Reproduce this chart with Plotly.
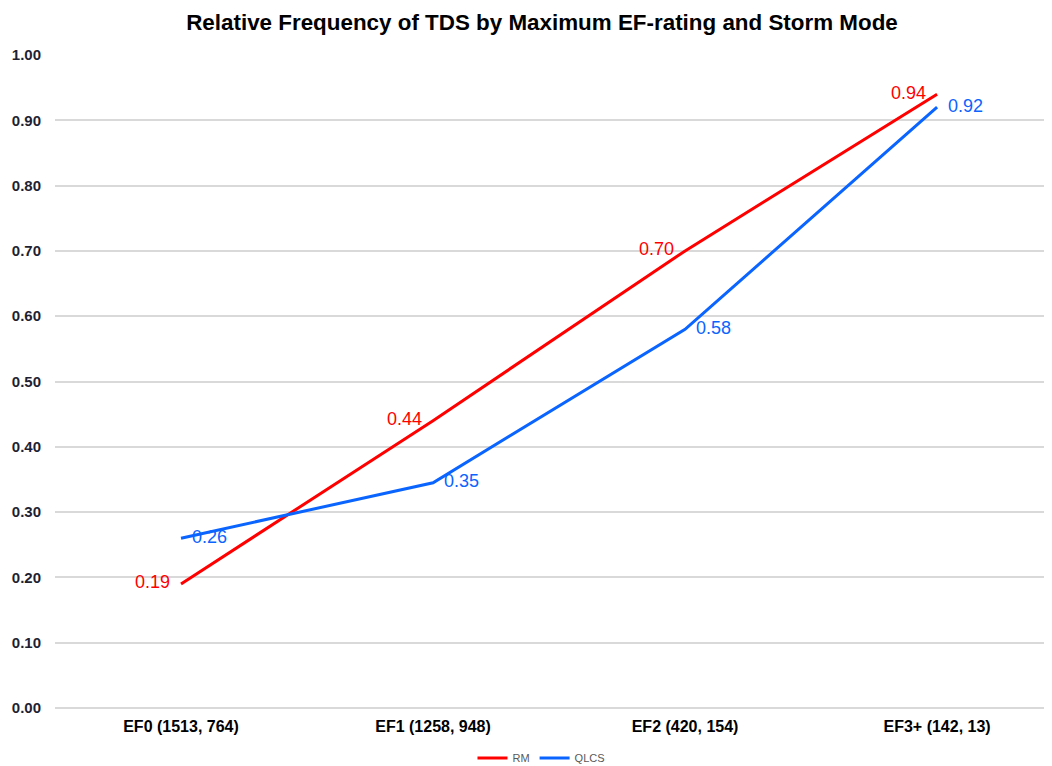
import plotly.graph_objects as go

categories = ["EF0 (1513, 764)", "EF1 (1258, 948)", "EF2 (420, 154)", "EF3+ (142, 13)"]
rm_values = [0.19, 0.44, 0.70, 0.94]
qlcs_values = [0.26, 0.345, 0.58, 0.92]
rm_labels = ["0.19", "0.44", "0.70", "0.94"]
qlcs_labels = ["0.26", "0.35", "0.58", "0.92"]

font_main = "Liberation Sans, Arial, sans-serif"

fig = go.Figure()
fig.add_trace(go.Scatter(
    x=categories, y=rm_values, name="RM", mode="lines+markers+text",
    line=dict(color="#FF0000", width=3),
    marker=dict(size=16, color="rgba(0,0,0,0)"),
    text=rm_labels, textposition="middle left",
    textfont=dict(color="#FF0000", size=18, family=font_main),
))
fig.add_trace(go.Scatter(
    x=categories, y=qlcs_values, name="QLCS", mode="lines+markers+text",
    line=dict(color="#0A64FF", width=3),
    marker=dict(size=16, color="rgba(0,0,0,0)"),
    text=qlcs_labels, textposition="middle right",
    textfont=dict(color="#0A64FF", size=18, family=font_main),
))

# page body has an 8px margin, so the figure is sized to fit the window
fig.update_layout(
    width=1044, height=758,
    paper_bgcolor="white", plot_bgcolor="white",
    margin=dict(l=47, r=0, t=47, b=58),
    title=dict(text="<b>Relative Frequency of TDS by Maximum EF-rating and Storm Mode</b>",
               x=0.5115, xanchor="center", y=0.9815, yanchor="middle",
               font=dict(size=22.4, color="black", family=font_main)),
    showlegend=True,
    legend=dict(orientation="h", xref="container", yref="container",
                x=0.511, xanchor="center", y=0.0106, yanchor="middle",
                font=dict(size=11, color="#595959", family=font_main),
                itemwidth=30, tracegroupgap=0),
    xaxis=dict(range=[-0.5, 3.456], showgrid=False, showline=False, zeroline=False,
               automargin=False, ticks="",
               tickfont=dict(size=16, color="black", family=font_main, weight="bold"),
               ticklabelstandoff=7),
    yaxis=dict(range=[0, 1.0], dtick=0.1, tickformat=".2f", showgrid=True,
               automargin=False,
               gridcolor="#D9D9D9", gridwidth=1.5, zeroline=True, zerolinecolor="#D9D9D9",
               zerolinewidth=1.5, showline=False, ticks="",
               tickfont=dict(size=15, color="#1F1F33", family=font_main, weight="bold"),
               ticklabelstandoff=13),
)

fig.write_html("out.html")
